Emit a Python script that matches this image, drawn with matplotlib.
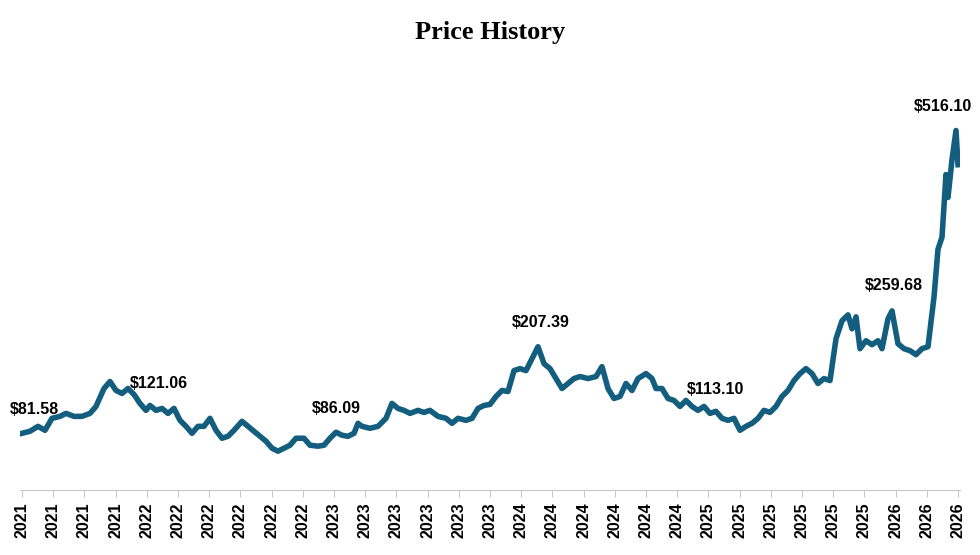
import numpy as np
import matplotlib.pyplot as plt

# price readings and where along the period they were read (in tick steps)
prices = [81.4, 84.3, 91.4, 85.7, 102.9, 105.7, 110, 105.7, 105.7, 110, 120, 145.7, 155.7, 142.9,
          138.6, 145.7, 137.1, 124.3, 114.3, 121.4, 114.3, 117.1, 110, 117.1, 100, 91.4, 81.4, 91.4,
          91.4, 102.9, 85.7, 74.3, 77.1, 85.7, 98.6, 91.4, 84.3, 77.1, 70, 60, 55.7, 60, 64.3, 74.3,
          74.3, 64.3, 62.9, 64.3, 74.3, 82.9, 78.6, 77.1, 81.4, 95.7, 91.4, 88.6, 91.4, 102.9, 124.3,
          117.1, 114.3, 110, 114.3, 111.4, 114.3, 105.7, 102.9, 95.7, 102.9, 100, 102.9, 117.1, 121.4,
          122.9, 134.3, 142.9, 141.4, 171.4, 174.3, 171.4, 188.6, 205.7, 181.4, 174.3, 160, 145.7,
          152.9, 160, 162.9, 160, 162.9, 177.1, 145.7, 131.4, 134.3, 152.9, 142.9, 160, 167.1, 160,
          145.7, 145.7, 131.4, 128.6, 120, 128.6, 120, 114.3, 120, 110, 112.9, 102.9, 100, 102.9,
          85.7, 91.4, 95.7, 102.9, 114.3, 111.4, 120, 134.3, 142.9, 157.1, 167.1, 174.3, 167.1,
          152.9, 160, 157.1, 217.1, 242.9, 251.4, 231.4, 248.6, 202.9, 214.3, 208.6, 214.3, 202.9,
          245.7, 257.1, 210, 202.9, 200, 194.3, 202.9, 205.7, 277.1, 345.7, 362.9, 452.9, 420,
          474.3, 516.1, 467]
sample_px = [22, 30, 38, 45, 52, 60, 66, 74, 82, 90, 96, 104, 110, 116, 122, 128, 134, 140, 146, 150,
             156, 162, 168, 174, 180, 186, 192, 198, 204, 210, 216, 222, 228, 234, 242, 248, 254, 260,
             266, 272, 278, 284, 290, 296, 304, 310, 318, 324, 330, 336, 342, 348, 354, 358, 362, 370,
             378, 386, 392, 398, 404, 410, 418, 424, 430, 438, 446, 452, 458, 466, 472, 478, 484, 490,
             496, 502, 508, 514, 520, 526, 532, 538, 544, 550, 556, 562, 568, 574, 580, 588, 596, 602,
             608, 614, 620, 626, 632, 638, 646, 652, 656, 662, 668, 674, 680, 686, 692, 698, 704, 710,
             716, 722, 728, 734, 740, 746, 752, 758, 764, 770, 776, 782, 788, 794, 800, 806, 812, 818,
             824, 830, 836, 842, 848, 852, 856, 860, 866, 872, 878, 882, 888, 892, 898, 904, 910, 916,
             922, 928, 934, 938, 942, 946, 948, 952, 956, 958]
tick_labels = ["2021"] * 4 + ["2022"] * 6 + ["2023"] * 6 + ["2024"] * 6 + ["2025"] * 6 + ["2026"] * 3
labels = ["$81.58", "$121.06", "$86.09", "$207.39", "$113.10", "$259.68", "$516.10"]
label_pos = [(-0.4, 115), (3.45, 153), (9.3, 117), (15.7, 240), (21.3, 145), (27.0, 293), (28.6, 550)]

x = (np.array(sample_px) - 22) / 31.2

fig = plt.figure(figsize=(9.8, 5.55), dpi=100)
ax = fig.add_axes([20 / 980, 65 / 555, 940 / 980, 404 / 555])
ax.plot(x, prices, color="#135d7e", lw=4, solid_joinstyle="round")
for t, (lx, ly) in zip(labels, label_pos):
    ax.text(lx, ly, t, fontsize=11.5, fontweight="bold", family="Liberation Sans", ha="left", va="center")

ax.set_xlim(-2 / 31.2, 30 + 2 / 31.2)
ax.set_ylim(0, 580)
ax.set_xticks(range(len(tick_labels)))
ax.set_xticklabels(tick_labels, rotation=90, fontsize=11.5, fontweight="bold", family="Liberation Sans")
ax.tick_params(axis="x", color="#c8c8c8", length=5, pad=4)
ax.set_yticks([])
for s in ["top", "right", "left"]:
    ax.spines[s].set_visible(False)
ax.spines["bottom"].set_color("#c8c8c8")
fig.text(0.5, 1 - 33 / 555, "Price History", ha="center", va="center",
         fontsize=19, fontweight="bold", family="Liberation Serif")
fig.savefig("out.png", dpi=100)
